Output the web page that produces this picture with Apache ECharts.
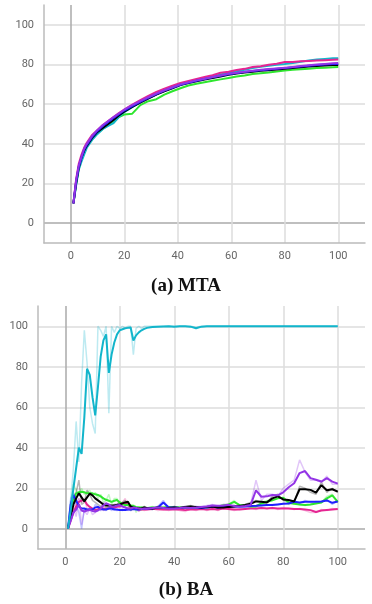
<!DOCTYPE html>
<html><head><meta charset="utf-8">
<script src="https://cdn.jsdelivr.net/npm/echarts@6/dist/echarts.min.js"></script>
<style>html,body{margin:0;padding:0;background:#fff}#c{width:372px;height:604px}</style>
</head><body><div id="c"></div>
<script>
// ---------- (a) MTA ----------
const xMta = [1,2,3,4,5,6,8,10,12,14,16,18,20,23,26,29,32,35,38,41,44,47,50,53,56,59,62,65,68,71,74,77,80,83,86,89,92,95,98,100];
const mtaGreen  = [10,20,27.5,32,36,39,42.5,45.5,47.5,49.5,51.5,53.5,54.8,55.2,59.5,61.5,62.5,64.8,66.5,68,69.4,70.3,71.1,71.8,72.5,73.2,73.9,74.5,75.2,75.6,76,76.5,77,77.3,77.6,77.9,78.2,78.4,78.6,78.7];
const mtaCyan   = [10,19,27,31,34.5,38,42,45,47.5,49,50.5,53.5,56,58.5,61,63,65,66.8,68.5,70,71.2,72.2,73.1,74,75,75.8,76.6,77.4,78.2,78.8,79.4,79.9,80.3,80.8,81.4,82,82.5,82.8,83.1,83.2];
const mtaPink   = [10,22,30,34.5,38,40.5,44.5,47,49.5,51.5,53.5,55.5,57.3,59.8,62,64.2,66.2,67.8,69.3,70.7,71.7,72.7,73.7,74.6,75.8,76.3,77.2,77.8,78.7,79.1,79.9,80.4,81.3,81.2,81.6,81.8,82,82.2,82.4,82.5];
const mtaBlack  = [10,20,28,33,36.5,39,43,46,48,50,52,54.3,56.2,58.6,60.8,62.8,64.8,66.5,68,69.6,70.6,71.5,72.4,73.2,74,74.8,75.4,75.9,76.4,76.8,77.1,77.5,77.8,78.2,78.6,79,79.3,79.5,79.7,79.8];
const mtaBlue   = [10,21,28.5,33,37,39.5,43.5,46.5,49,51,53,55,56.8,59,61.2,63.2,65.1,66.8,68.3,69.8,70.8,71.8,72.7,73.5,74.3,75.1,75.7,76.2,76.7,77.1,77.5,77.9,78.2,78.6,79,79.4,79.7,80,80.2,80.3];
const mtaPurple = [10,21.5,29,33.5,37.5,40,44,47,49.5,51.5,53.5,55.3,57.2,59.5,61.5,63.5,65.3,67,68.5,70,71,72,72.8,73.7,74.5,75.3,75.8,76.4,76.9,77.3,77.7,78,78.3,78.7,79.2,79.6,80,80.3,80.6,80.8];

// ---------- (b) BA ----------
const xBa = [1,2,3,4,5,6,7,8,9,10,11,12,13,14,15,16,17,18,19,20,21,22,23,24,25,26,27,28,29,30,32,34,36,38,40,42,44,46,48,50,52,54,56,58,60,62,64,66,68,70,72,74,76,78,80,82,84,86,88,90,92,94,96,98,100];
const baBlack    = [0,6,12,15,17.5,15.5,13.5,15.5,17.3,16.5,15,14,13,12,11.5,11.5,11.5,11.5,11.8,12,12.5,13,13.3,11,10.5,10.3,10,10,10.5,10.3,
  10,10.5,10.2,10.3,10.5,10.3,10.8,11,10.8,10.5, 10.8,11,10.5,10.5,10.8,11,11.3,11.7,12.3,13.5, 13.3,13,15,16,14.5,14.2,13.5,19.5,19.5,19.2, 17.8,21.5,19,19.5,18.3];
const baBlackRaw = [0,10,16,18,24,12,13,19,17,14,13,12,11,12,10,12,11,12,12,13,13,14,12,9,10,10,9.5,10.5,11,10,
  9.5,11,10,10,11,10,11,11.5,10.5,10, 11,11.5,10,11,11,11.5,11,12,13,14, 13,13,16,17,14,14,13,21,20,18, 17,23,18,20,18];
const baPurple    = [0,4,8,9.5,12,9,8.5,9,9.3,8.8,8.5,9,10,11.5,12.5,12,11,11,11.5,11.7,11,10.5,10,10,10.5,10.3,10,9.8,10,10,
  10.2,10.5,10.3,10,10,10.2,10.5,10.3,10.5,10.8, 11,11.5,11.3,11.5,11.8,11.2,11,11.2,11.7,19, 15.8,16,16.7,16.5,18,20.5,22.5,27.5,28.5,25, 24.2,23.3,25,23.3,22.3];
const baPurpleRaw = [0,5,10,6,15,2,9,7,10,7,8,10,9,13,13,11,10,12,12,11,10,11,9,10,11,10,9,9.5,10.5,10,
  10.5,11,10,9.5,10.5,10,11,10,11,11, 11.5,12,11,12,12,11,11,11.5,12,24, 14,17,17,16,20,22,24,34,28,24, 24,23,26,22,22];
const baBlue    = [0,12,16.7,14,11,10,10,9.5,9.5,9.5,10.5,10.8,10,9.5,9.5,10,10,9.5,9.5,9.3,9.2,9.2,9.5,9.5,9.8,9.5,9.5,9.8,10,10,
  10,10.5,13,10.5,10.5,10.3,10.5,10.5,10.5,10.3, 10.5,10.8,10.5,10.8,10.8,11,11,11,11.2,11.3, 11.5,11.7,11.7,12,12.3,12.5,13.3,13,13.3,13.3, 13.3,13.5,14,12.8,13.5];
const baBlueRaw = [0,15,18,12,8,0,10,9,10,8.5,12,11,9,10,9,10.5,9,10,9,9.5,9,9.5,10,9,10,9.5,9,10,10.5,10,
  9.5,11,14,10,11,10,11,10,11,10, 11,11,10,11,11,11.5,10.5,11,11.5,11, 12,11.5,12,12,12.5,12.5,14,12.5,14,13, 13.5,13.5,14.5,12,14];
const baGreen    = [0,8,14,17.5,18,18.3,18,17.5,17.5,17.5,17,16.7,16,15,14.3,13.8,13.3,13.8,14.2,13,12.3,11.7,11.7,11.5,11.2,10.8,10.5,10.5,10.3,10.3,
  10.5,10.3,10.5,10.8,10.5,10.5,10.3,10.5,10.5,10.8, 10.5,10.8,11,11.5,12,13.3,11.7,11.5,11,11, 12.5,13.3,14,15,15.3,13,12.3,12,11.7,12, 12.5,13,15,16.5,13.3];
const baGreenRaw = [0,12,22,19,17,20,17,18,19,16,18,15,17,13,14,17,12,15,15,11,12,11,13,10,12,8,11,9,11,10,
  11,10,11,11,10,11,10,11,10,11, 10,11,11,12,12,14,11,11,11,11, 13,14,14,16,15,12,12.5,12,11.5,12, 13,13,16,17,13];
const baPink    = [0,4,8,11,13.3,14,14.2,12,10.8,10,9.2,9.5,10,10,9.8,10,10.3,10.5,10.8,11,12,13,12,11,10.3,10,9.5,9.5,9.5,9.5,
  9.8,9.8,9.5,9.5,9.5,9.5,9.2,9.5,9.5,9.8, 9.5,9.8,9.5,10,9.8,9.5,9.5,9.8,10,10, 10.2,10,10.2,10,10,10,9.8,9.8,9.5,9.2, 8.3,9,9.3,9.5,9.7];
const baPinkRaw = [0,6,10,13,15,13,15,10,10,9,8.5,10,11,9,10,10.5,11,10,11,12,13,15,11,10,9.5,10,8.5,10,9,9.5,
  10,9,9.5,9,10,9,8.5,10,9,10, 9,10,9,10.5,9.5,9,10,10,10.5,9.5, 10.5,10,10.5,9.5,10.5,10,9.5,10,9,8, 8,9.5,9,10,9.5];
const baCyan    = [0,9,20,30,40,37,55,79,76,65,56,70,85,93,96,77,86,92,96,98,98.5,99,99.2,99.4,93,95.5,97,98,98.7,99.2,
  99.6,99.8,99.9,100,99.8,100,100,99.8,99,99.8, 100,100,100,100,100,100,100,100,100,100, 100,100,100,100,100,100,100,100,100,100, 100,100,100,100,100];
const baCyanRaw = [0,14,30,53,33,72,98,82,60,52,47,100,98,95,100,57,100,97,100,99,100,99,100,100,86,99,100,99,100,100,
  100,100,100,100,100,100,100,100,99.5,100, 100,100,100,100,100,100,100,100,100,100, 100,100,100,100,100,100,100,100,100,100, 100,100,100,100,100];

const yTicks = [0,20,40,60,80,100];
const captions = ['(a) MTA', '(b) BA'];

const C = {black:'#000000', green:'#2ee62e', cyan:'#12b5cb', pink:'#e52592', blue:'#2020ff', purple:'#9334e6'};
const T = 'rgba(0,0,0,0)';
const splitColors = [T,'#aaaaaa',T,'#dddddd',T,'#dddddd',T,'#dddddd',T,'#dddddd',T,'#dddddd',T];

function pairs(xs, ys){ return xs.map((x,i)=>[x, ys[i]]); }
function labelFmt(v){ return yTicks.indexOf(v) >= 0 ? String(v) : ''; }

function axis(gi, horizontal){
  return {
    type:'value', gridIndex:gi, min:-10, max:110, interval:10,
    axisLine:{show:true, onZero:false, lineStyle:{color:'#bbbbbb', width:1.5}},
    axisTick:{show:false},
    axisLabel:{color:'#666', fontSize:11, fontFamily:'Roboto', margin: horizontal ? 8 : 10, formatter: labelFmt, showMinLabel:true, showMaxLabel:true},
    splitLine:{show:true, showMinLine:true, showMaxLine:true, lineStyle:{color: splitColors, width:1.5}}
  };
}

function line(gi, xs, ys, color, raw){
  return {
    type:'line', xAxisIndex:gi, yAxisIndex:gi, data:pairs(xs, ys),
    showSymbol:false, symbol:'none', silent:true, animation:false,
    z: raw ? 2 : 3,
    lineStyle:{color:color, width: raw ? 1.5 : 2, opacity: raw ? 0.28 : 1}
  };
}

const series = [
  line(0, xMta, mtaGreen, C.green),
  line(0, xMta, mtaCyan, C.cyan),
  line(0, xMta, mtaPink, C.pink),
  line(0, xMta, mtaBlack, C.black),
  line(0, xMta, mtaBlue, C.blue),
  line(0, xMta, mtaPurple, C.purple),

  line(1, xBa, baPinkRaw, C.pink, true),
  line(1, xBa, baGreenRaw, C.green, true),
  line(1, xBa, baBlueRaw, C.blue, true),
  line(1, xBa, baBlackRaw, C.black, true),
  line(1, xBa, baPurpleRaw, C.purple, true),
  line(1, xBa, baCyanRaw, C.cyan, true),
  line(1, xBa, baPink, C.pink),
  line(1, xBa, baGreen, C.green),
  line(1, xBa, baBlue, C.blue),
  line(1, xBa, baBlack, C.black),
  line(1, xBa, baPurple, C.purple),
  line(1, xBa, baCyan, C.cyan)
];

const chart = echarts.init(document.getElementById('c'), null, {renderer:'canvas'});
chart.setOption({
  animation:false,
  backgroundColor:'#ffffff',
  grid:[
    {left:44, right:7, top:5, bottom:361, containLabel:false},
    {left:38, right:7, top:306, bottom:55, containLabel:false}
  ],
  xAxis:[axis(0,true), axis(1,true)],
  yAxis:[axis(0,false), axis(1,false)],
  series: series,
  graphic:[
    {type:'text', left:'center', top:277, style:{text:captions[0], font:'bold 19px "Liberation Serif"', fill:'#111'}},
    {type:'text', left:'center', top:581, style:{text:captions[1], font:'bold 19px "Liberation Serif"', fill:'#111'}}
  ]
});
</script></body></html>
